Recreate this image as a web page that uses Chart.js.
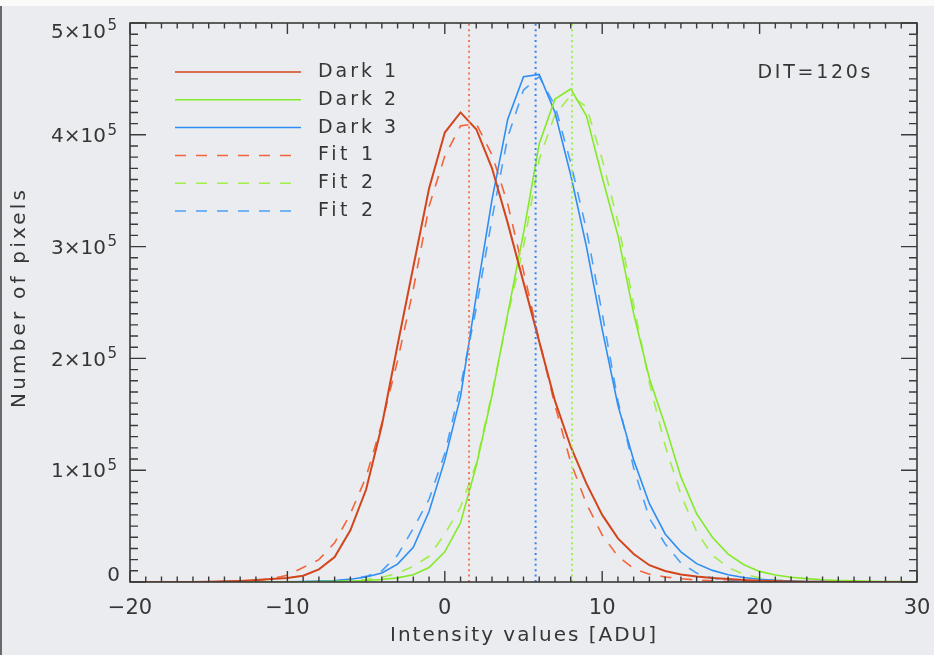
<!DOCTYPE html>
<html>
<head>
<meta charset="utf-8">
<script src="https://cdn.jsdelivr.net/npm/chart.js@4.4.1/dist/chart.umd.min.js"></script>
<style>
  html, body { margin: 0; padding: 0; background: #eaecef; overflow: hidden; }
  #wrap { position: relative; width: 934px; height: 655px; }
</style>
</head>
<body>
<div id="wrap"><canvas id="c" width="934" height="655"></canvas></div>
<script>
// Histogram bins (ADU)
const intensity = [-20,-19,-18,-17,-16,-15,-14,-13,-12,-11,-10,-9,-8,-7,-6,-5,-4,-3,-2,-1,
  0,1,2,3,4,5,6,7,8,9,10,11,12,13,14,15,16,17,18,19,20,21,22,23,24,25,26,27,28,29,30];

// Pixel counts per bin, three dark frames
const dark1 = [0,0,0,0,0,300,600,1000,1700,2700,3600,5600,11300,22300,46200,82700,140000,212000,282000,352000,
  402000,420000,405000,370000,321000,268000,215000,162000,121000,88000,60000,39000,25000,15000,9800,6800,5000,3600,2600,1800,
  1200,800,500,300,200,100,0,0,0,0,0];
const dark2 = [0,0,0,0,0,0,0,0,0,0,100,200,400,600,900,1400,2200,3700,6500,13000,
  27000,53000,104000,167000,240000,312000,392000,432000,441000,417000,362000,310000,240000,182000,140000,94000,61000,40000,25000,15500,
  9500,6200,4200,3000,2000,1400,1000,700,500,300,200];
const dark3 = [0,0,0,0,0,0,0,0,0,100,200,400,800,1400,2500,4400,8000,16000,31000,63000,
  109000,166000,256000,342000,414000,452000,454000,420000,364000,300000,226000,158000,109000,70000,43000,27000,16400,10400,6500,4000,
  2500,1500,900,500,300,200,100,0,0,0,0];

// Gaussian fits evaluated at the same bins
const fit1 = [0,0,0,0,0,0,0,500,1200,3000,6000,13000,20000,35000,61000,94000,142000,198000,262000,336000,
  381000,408000,410000,382000,338000,278000,216000,158000,107000,70000,42000,23000,12000,7000,4500,3000,1800,1000,500,200,
  0,0,0,0,0,0,0,0,0,0,0];
const fit2 = [0,0,0,0,0,0,0,0,0,0,0,0,300,600,1200,2200,4000,8000,14000,23000,
  43000,67000,106000,169000,238000,300000,378000,418000,435000,425000,378000,322000,248000,178000,122000,78000,45000,24000,13000,7000,
  3800,1800,800,300,0,0,0,0,0,0,0];
const fit3 = [0,0,0,0,0,0,0,0,0,0,0,200,500,1200,2500,5000,10000,24000,48000,74000,
  115000,175000,245000,325000,398000,440000,452000,426000,375000,315000,240000,162000,102000,57000,34000,17000,8000,3500,1500,600,
  200,0,0,0,0,0,0,0,0,0,0];

// Fitted centres (ADU) for frames 1, 2, 3
const fitCentres = [1.54, 8.08, 5.77];

const seriesLabels = ['Dark 1', 'Dark 2', 'Dark 3', 'Fit 1', 'Fit 2', 'Fit 2'];
const xTickValues = [-20, -10, 0, 10, 20, 30];
const xTickLabels = ['\u221220', '\u221210', '0', '10', '20', '30'];
const yTickValues = [0, 100000, 200000, 300000, 400000, 500000];
const yTickMantissa = ['0', '1\u00d710', '2\u00d710', '3\u00d710', '4\u00d710', '5\u00d710'];
const yTickExponent = ['', '5', '5', '5', '5', '5'];

const FONT = '"DejaVu Sans", sans-serif';
const TEXT = '#363636';

const pts = arr => arr.map((v, i) => ({ x: intensity[i], y: v }));
const colours = {
  d1: '#d2451d', d2: '#84ea28', d3: '#2f8ef3',
  f1: '#f4653c', f2: '#a2ee4a', f3: '#4aa0f8'
};
const DASH = [11, 10];

const curves = [
  { label: seriesLabels[0], data: pts(dark1), borderColor: colours.d1, borderWidth: 2 },
  { label: seriesLabels[1], data: pts(dark2), borderColor: colours.d2, borderWidth: 1.6 },
  { label: seriesLabels[2], data: pts(dark3), borderColor: colours.d3, borderWidth: 1.6 },
  { label: seriesLabels[3], data: pts(fit1), borderColor: colours.f1, borderWidth: 1.6, borderDash: DASH },
  { label: seriesLabels[4], data: pts(fit2), borderColor: colours.f2, borderWidth: 1.6, borderDash: DASH },
  { label: seriesLabels[5], data: pts(fit3), borderColor: colours.f3, borderWidth: 1.6, borderDash: DASH }
];
const centreColours = ['#f27a5a', '#9ff050', '#3585ee'];
const centreLines = fitCentres.map((c, i) => ({
  label: 'centre ' + (i + 1),
  data: [{ x: c, y: yTickValues[0] }, { x: c, y: yTickValues[yTickValues.length - 1] }],
  borderColor: centreColours[i], borderWidth: 2, borderDash: [2, 3.4], isCentre: true
}));

const datasets = centreLines.concat(curves).map(d => Object.assign({
  fill: false, pointRadius: 0, tension: 0, borderCapStyle: 'butt'
}, d));

function spacedText(ctx, str, x, y, width, align) {
  // draw text stretched to a given width through letter spacing
  ctx.letterSpacing = '0px';
  const w0 = ctx.measureText(str).width;
  const n = Math.max(str.length - 1, 1);
  const sp = width ? (width - w0) / n : 0;
  ctx.letterSpacing = sp + 'px';
  const w = w0 + sp * n;
  let sx = x;
  if (align === 'center') sx = x - w / 2;
  else if (align === 'right') sx = x - w;
  ctx.textAlign = 'left';
  ctx.fillText(str, sx, y);
  ctx.letterSpacing = '0px';
}

const backdrop = {
  id: 'backdrop',
  beforeDraw(chart) {
    const ctx = chart.ctx;
    ctx.save();
    ctx.fillStyle = '#eaecef';
    ctx.fillRect(0, 0, chart.width, chart.height);
    ctx.fillStyle = '#fbfbfb';
    ctx.fillRect(0, 0, chart.width, 6);
    ctx.fillStyle = '#6a6a6a';
    ctx.fillRect(0, 6, 2, chart.height - 6);
    ctx.restore();
  }
};

const frame = {
  id: 'frame',
  afterDatasetsDraw(chart) {
    const { ctx, chartArea: a, scales: { x, y } } = chart;
    ctx.save();
    ctx.strokeStyle = '#3a3a3a';
    ctx.lineWidth = 1.6;
    ctx.strokeRect(a.left, a.top, a.right - a.left, a.bottom - a.top);
    ctx.lineWidth = 1.4;
    ctx.beginPath();
    for (let v = x.min; v <= x.max; v += 1) {
      const px = x.getPixelForValue(v);
      const len = v % 10 === 0 ? 11 : 5.5;
      ctx.moveTo(px, a.bottom); ctx.lineTo(px, a.bottom - len);
      ctx.moveTo(px, a.top); ctx.lineTo(px, a.top + len);
    }
    for (let v = y.min; v <= y.max; v += 10000) {
      const py = y.getPixelForValue(v);
      const len = v % 100000 === 0 ? 16 : 8;
      ctx.moveTo(a.left, py); ctx.lineTo(a.left + len, py);
      ctx.moveTo(a.right, py); ctx.lineTo(a.right - len, py);
    }
    ctx.stroke();

    ctx.fillStyle = TEXT;
    ctx.textBaseline = 'middle';
    // x tick labels
    ctx.font = '21px ' + FONT;
    xTickValues.forEach((v, i) => {
      spacedText(ctx, xTickLabels[i], x.getPixelForValue(v), 609, 0, 'center');
    });
    // y tick labels with exponent
    yTickValues.forEach((v, i) => {
      const py = y.getPixelForValue(v);
      const cy = Math.min(Math.max(py + 2, a.top + 9.5), a.bottom - 6.5);
      ctx.font = '20px ' + FONT;
      ctx.textBaseline = 'middle';
      if (yTickExponent[i]) {
        spacedText(ctx, yTickMantissa[i], 106, cy, 0, 'right');
        ctx.font = '15px ' + FONT;
        spacedText(ctx, yTickExponent[i], 107.5, cy - 6, 0, 'left');
      } else {
        spacedText(ctx, yTickMantissa[i], 120, cy, 0, 'right');
      }
    });
    // axis titles
    ctx.font = '20px ' + FONT;
    spacedText(ctx, 'Intensity values [ADU]', 523, 636, 266, 'center');
    ctx.save();
    ctx.translate(20, 299);
    ctx.rotate(-Math.PI / 2);
    spacedText(ctx, 'Number of pixels', 0, 0, 218, 'center');
    ctx.restore();
    // annotation
    ctx.font = '19px ' + FONT;
    spacedText(ctx, 'DIT=120s', 814, 73, 113, 'center');

    // legend
    const legendSets = chart.data.datasets.filter(d => !d.isCentre);
    legendSets.forEach((d, i) => {
      const ly = 72 + i * 27.8;
      ctx.save();
      ctx.strokeStyle = d.borderColor;
      ctx.lineWidth = 1.5;
      ctx.setLineDash(d.borderDash || []);
      ctx.beginPath();
      ctx.moveTo(175, ly); ctx.lineTo(301, ly);
      ctx.stroke();
      ctx.restore();
      ctx.fillStyle = TEXT;
      ctx.font = '19px ' + FONT;
      ctx.textBaseline = 'middle';
      const w = d.label.startsWith('Dark') ? 78 : 55;
      spacedText(ctx, d.label, 318, ly, w, 'left');
    });
    ctx.restore();
  }
};

new Chart(document.getElementById('c'), {
  type: 'line',
  data: { datasets },
  options: {
    responsive: false,
    animation: false,
    events: [],
    layout: { padding: { left: 130, right: 17, top: 23, bottom: 73 } },
    scales: {
      x: { type: 'linear', min: -20, max: 30, display: false },
      y: { type: 'linear', min: 0, max: 500000, display: false }
    },
    plugins: { legend: { display: false }, tooltip: { enabled: false } }
  },
  plugins: [backdrop, frame]
});
</script>
</body>
</html>
